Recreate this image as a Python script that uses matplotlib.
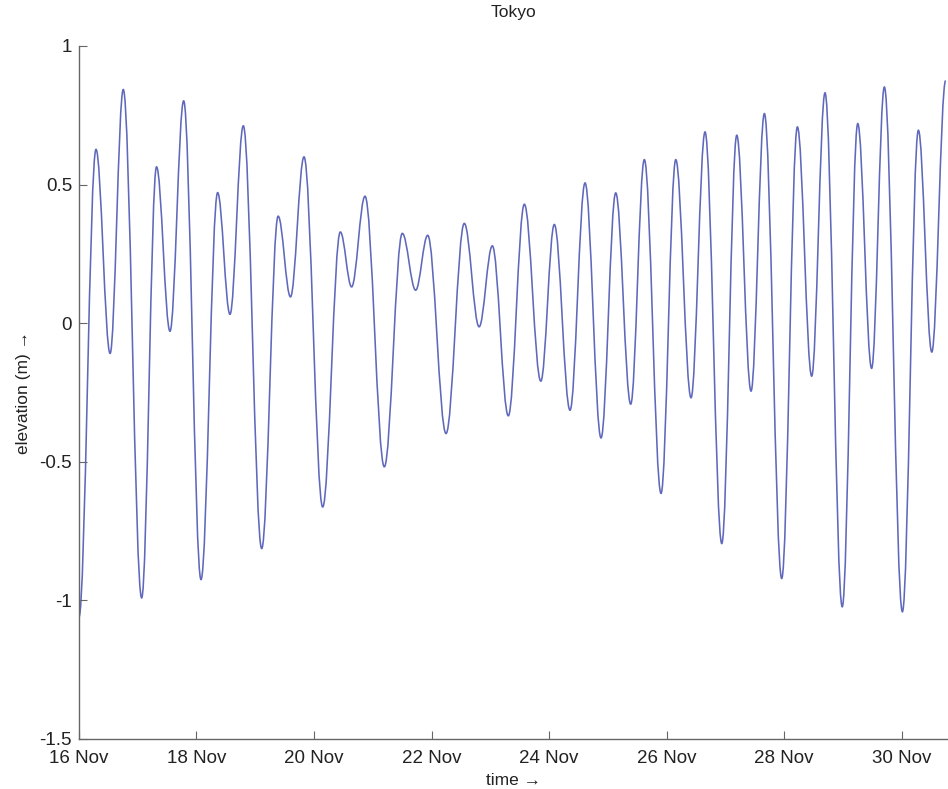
import matplotlib
matplotlib.use("Agg")
import matplotlib.pyplot as plt
from matplotlib.path import Path
from matplotlib.patches import PathPatch

# high / low water times (day of November) and elevations (m)
days = [16.00, 16.29, 16.53, 16.754, 17.067, 17.32, 17.549, 17.782, 18.077,
        18.36, 18.57, 18.797, 19.11, 19.39, 19.60, 19.83, 20.148, 20.448,
        20.64, 20.868, 21.197, 21.503, 21.73, 21.935, 22.247, 22.558, 22.81,
        23.035, 23.307, 23.58, 23.86, 24.09, 24.357, 24.613, 24.885, 25.135,
        25.39, 25.622, 25.906, 26.157, 26.417, 26.655, 26.94, 27.195, 27.438,
        27.665, 27.96, 28.227, 28.47, 28.697, 28.99, 29.254, 29.49, 29.707,
        30.014, 30.286, 30.514, 30.75]
elevation = [-1.06, 0.627, -0.109, 0.843, -0.991, 0.564, -0.029, 0.802, -0.925,
             0.471, 0.032, 0.712, -0.813, 0.386, 0.095, 0.600, -0.663, 0.329,
             0.131, 0.458, -0.518, 0.324, 0.119, 0.317, -0.398, 0.360, -0.013,
             0.279, -0.334, 0.429, -0.209, 0.356, -0.314, 0.506, -0.414, 0.470,
             -0.292, 0.590, -0.614, 0.590, -0.269, 0.690, -0.795, 0.678, -0.245,
             0.756, -0.921, 0.708, -0.191, 0.831, -1.023, 0.720, -0.163, 0.852,
             -1.041, 0.696, -0.104, 0.875]

tick_days = [16, 18, 20, 22, 24, 26, 28, 30]
tick_labels = ['16 Nov', '18 Nov', '20 Nov', '22 Nov', '24 Nov', '26 Nov', '28 Nov', '30 Nov']
y_ticks = [-1.5, -1, -0.5, 0, 0.5, 1]
y_labels = ['-1.5', '-1', '-0.5', '0', '0.5', '1']

plt.rcParams['font.family'] = ['Liberation Sans', 'DejaVu Sans']

fig = plt.figure(figsize=(9.48, 7.89), dpi=100)
ax = fig.add_axes([0.0833, 0.0634, 0.9167, 0.8783])

# smooth curve between turning points: cubic bezier with flat tangents at each extreme
k = 0.364
verts = [(days[0], elevation[0])]
codes = [Path.MOVETO]
for i in range(1, len(days)):
    d0, e0 = days[i - 1], elevation[i - 1]
    d1, e1 = days[i], elevation[i]
    dt = d1 - d0
    verts += [(d0 + k * dt, e0), (d1 - k * dt, e1), (d1, e1)]
    codes += [Path.CURVE4] * 3
ax.add_patch(PathPatch(Path(verts, codes), fill=False, edgecolor='#5f68bb', lw=1.15))

ax.set_xlim(16, 30.79)
ax.set_ylim(-1.5, 1)
ax.set_xticks(tick_days)
ax.set_xticklabels(tick_labels)
ax.set_yticks(y_ticks)
ax.set_yticklabels(y_labels)

ax.spines['top'].set_visible(False)
ax.spines['right'].set_visible(False)
for s in ['left', 'bottom']:
    ax.spines[s].set_color('#666666')
    ax.spines[s].set_linewidth(1.0)
ax.tick_params(direction='in', length=6, width=0.8, color='#666666',
               labelsize=13.5, labelcolor='#222222')
ax.tick_params(axis='x', pad=8)
ax.tick_params(axis='y', pad=5)

ax.set_title('Tokyo', fontsize=12.5, color='#222222', pad=21)
ax.set_xlabel('time \u2192', fontsize=12.5, color='#222222', labelpad=4)
ax.set_ylabel('elevation (m) \u2192', fontsize=12.5, color='#222222', labelpad=6)

fig.savefig('out.png', dpi=100)
